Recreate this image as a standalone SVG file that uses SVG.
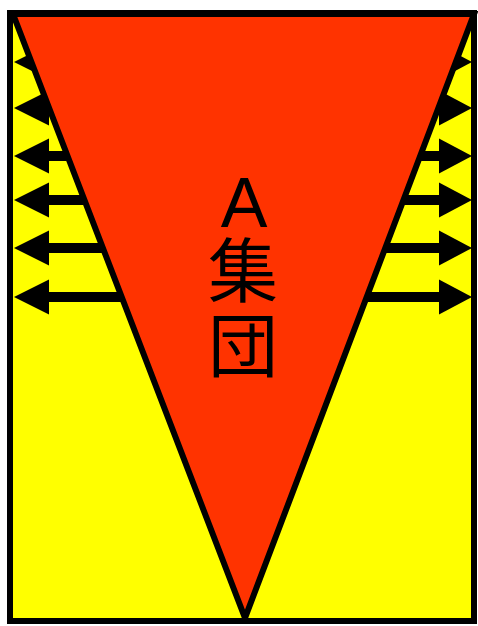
<svg xmlns="http://www.w3.org/2000/svg" width="478" height="626" viewBox="0 0 478 626">
<style>
.frame{fill:#ffff00;stroke:#000;stroke-width:6}
.tri{fill:#ff3300;stroke:#000;stroke-width:6;stroke-linejoin:miter;stroke-miterlimit:20}
.arr{stroke:#000;stroke-width:10;fill:none}
.head{fill:#000}
.lbl{font-family:"Liberation Sans","Noto Sans CJK JP",sans-serif;font-size:70px;fill:#000;text-anchor:middle}
</style>
<defs><clipPath id="clip"><rect x="0" y="0" width="478" height="623"/></clipPath></defs>
<rect width="478" height="626" fill="#fff"/>
<g id="frame"><rect class="frame" x="10" y="13" width="464" height="608"/></g>
<g id="connectors">
<line class="arr" x1="48" y1="62" x2="170" y2="62"/><polygon class="head" points="14,62 49,44.5 49,79.5"/>
<line class="arr" x1="48" y1="108" x2="170" y2="108"/><polygon class="head" points="14,108 49,90.5 49,125.5"/>
<line class="arr" x1="48" y1="156" x2="170" y2="156"/><polygon class="head" points="14,156 49,138.5 49,173.5"/>
<line class="arr" x1="48" y1="200" x2="170" y2="200"/><polygon class="head" points="14,200 49,182.5 49,217.5"/>
<line class="arr" x1="48" y1="248" x2="170" y2="248"/><polygon class="head" points="14,248 49,230.5 49,265.5"/>
<line class="arr" x1="48" y1="297" x2="170" y2="297"/><polygon class="head" points="14,297 49,279.5 49,314.5"/>
<line class="arr" x1="300" y1="62" x2="440" y2="62"/><polygon class="head" points="472,62 439,44.5 439,79.5"/>
<line class="arr" x1="300" y1="108" x2="440" y2="108"/><polygon class="head" points="472,108 439,90.5 439,125.5"/>
<line class="arr" x1="300" y1="156" x2="440" y2="156"/><polygon class="head" points="472,156 439,138.5 439,173.5"/>
<line class="arr" x1="300" y1="200" x2="440" y2="200"/><polygon class="head" points="472,200 439,182.5 439,217.5"/>
<line class="arr" x1="300" y1="248" x2="440" y2="248"/><polygon class="head" points="472,248 439,230.5 439,265.5"/>
<line class="arr" x1="300" y1="297" x2="440" y2="297"/><polygon class="head" points="472,297 439,279.5 439,314.5"/>
</g>
<g id="groupA">
<polygon class="tri" clip-path="url(#clip)" points="13,14 474,14 245,618"/>
<text class="lbl"><tspan x="244" y="227">A</tspan><tspan x="243" y="297">集</tspan><tspan x="243" y="372">団</tspan></text>
</g>
</svg>
